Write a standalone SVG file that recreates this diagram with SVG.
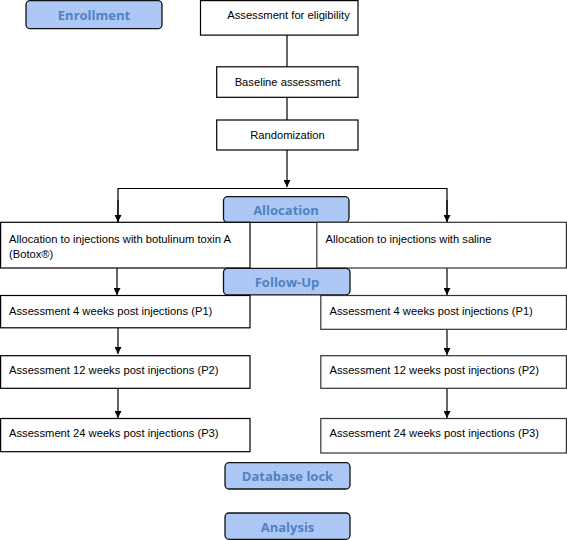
<svg xmlns="http://www.w3.org/2000/svg" width="567" height="540" viewBox="0 0 567 540">
<defs>
<pattern id="dots" width="4" height="4" patternUnits="userSpaceOnUse">
<rect width="4" height="4" fill="#a9c5f6"/>
<circle cx="1" cy="1" r="0.5" fill="#d8e4f0"/>
<circle cx="3" cy="3" r="0.5" fill="#c8d8f4"/>
</pattern>
<marker id="arr" viewBox="0 0 10 10" refX="10" refY="5" markerWidth="7" markerHeight="7" orient="auto" markerUnits="userSpaceOnUse">
<path d="M0,0 L10,5 L0,10 z" fill="#000"/>
</marker>
</defs>
<style>
.box{fill:#fff;stroke:#000;stroke-width:1.2}
.gbox{fill:#fff;stroke:#333;stroke-width:1.2}
.stage{fill:url(#dots);stroke:#111;stroke-width:1.3}
.t{font-family:"Liberation Sans",Arial,sans-serif;font-size:11.2px;fill:#000}
.c{text-anchor:middle}
.s{font-family:"Open Sans","Noto Sans",sans-serif;font-weight:bold;font-size:13px;fill:#4f82c2;text-anchor:middle}
.ln{stroke:#000;stroke-width:1.2;fill:none}
</style>
<rect width="567" height="540" fill="#fff"/>

<g id="connectors">
<line class="ln" x1="287" y1="35" x2="287" y2="67"/>
<line class="ln" x1="287" y1="97" x2="287" y2="120"/>
<line class="ln" x1="287" y1="150" x2="287" y2="187" marker-end="url(#arr)"/>
<polyline class="ln" points="118,222 118,188.5 447,188.5 447,222"/>
<line class="ln" x1="118" y1="200" x2="118" y2="222" marker-end="url(#arr)"/>
<line class="ln" x1="447" y1="200" x2="447" y2="222" marker-end="url(#arr)"/>
<line class="ln" x1="117" y1="268" x2="117" y2="295" marker-end="url(#arr)"/>
<line class="ln" x1="447" y1="268" x2="447" y2="295" marker-end="url(#arr)"/>
<line class="ln" x1="118" y1="328" x2="118" y2="354" marker-end="url(#arr)"/>
<line class="ln" x1="447" y1="329" x2="447" y2="355" marker-end="url(#arr)"/>
<line class="ln" x1="118" y1="388" x2="118" y2="418" marker-end="url(#arr)"/>
<line class="ln" x1="447" y1="388" x2="447" y2="418" marker-end="url(#arr)"/>
</g>

<g id="enrollment"><rect class="stage" x="26" y="0.7" width="136" height="28" rx="4"/><text class="s" x="94" y="19.5">Enrollment</text></g>
<g id="eligibility"><rect class="box" x="200.5" y="0.6" width="157.5" height="34.5"/><text class="t c" x="288.5" y="18.5">Assessment for eligibility</text></g>
<g id="baseline"><rect class="box" x="216.7" y="66.8" width="141.3" height="30.5"/><text class="t c" x="287.5" y="86">Baseline assessment</text></g>
<g id="randomization"><rect class="box" x="216.7" y="120" width="141.3" height="30"/><text class="t c" x="287.5" y="138.5">Randomization</text></g>

<g id="allocation"><rect class="stage" x="223.5" y="196.7" width="125.5" height="25.6" rx="4"/><text class="s" x="286" y="214.5">Allocation</text></g>
<g id="alloc-botox"><rect class="box" x="0.6" y="222.3" width="249.4" height="45.7"/><text class="t" x="9" y="243">Allocation to injections with botulinum toxin A</text><text class="t" x="9" y="257.5">(Botox®)</text></g>
<g id="alloc-saline"><rect class="gbox" x="316.8" y="222.3" width="249.6" height="45.7"/><text class="t" x="325.5" y="243">Allocation to injections with saline</text></g>

<g id="followup"><rect class="stage" x="223.5" y="268.3" width="126.5" height="26.5" rx="4"/><text class="s" x="287" y="286.5">Follow-Up</text></g>

<g id="botox-p1"><rect class="box" x="0.6" y="295.5" width="249.4" height="32.3"/><text class="t" x="9" y="315">Assessment 4 weeks post injections (P1)</text></g>
<g id="botox-p2"><rect class="box" x="0.6" y="355.7" width="249.4" height="32.6"/><text class="t" x="9" y="373.5">Assessment 12 weeks post injections (P2)</text></g>
<g id="botox-p3"><rect class="box" x="0.6" y="418.5" width="249.4" height="33.2"/><text class="t" x="9" y="437">Assessment 24 weeks post injections (P3)</text></g>

<g id="saline-p1"><rect class="gbox" x="320.8" y="295.5" width="245.6" height="33.8"/><text class="t" x="329.5" y="315">Assessment 4 weeks post injections (P1)</text></g>
<g id="saline-p2"><rect class="gbox" x="320.8" y="355.7" width="245.6" height="32.6"/><text class="t" x="329.5" y="373.5">Assessment 12 weeks post injections (P2)</text></g>
<g id="saline-p3"><rect class="gbox" x="320.8" y="418.5" width="245.6" height="34.5"/><text class="t" x="329.5" y="437">Assessment 24 weeks post injections (P3)</text></g>

<g id="database-lock"><rect class="stage" x="225" y="462.7" width="125" height="26.3" rx="4"/><text class="s" x="287.5" y="481">Database lock</text></g>
<g id="analysis"><rect class="stage" x="225" y="513" width="125" height="26.3" rx="4"/><text class="s" x="287.5" y="531.5">Analysis</text></g>
</svg>
